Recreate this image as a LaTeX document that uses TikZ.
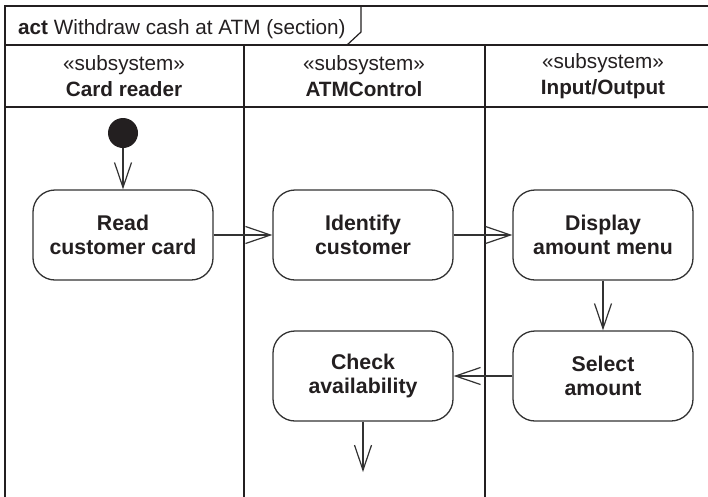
\documentclass[tikz,border=0pt]{standalone}
\usepackage{fontspec}
\setmainfont{Liberation Sans}
\usetikzlibrary{arrows.meta}
\definecolor{Ink}{HTML}{231F20}
\definecolor{EdgeGrey}{HTML}{333333}

\begin{document}
\begin{tikzpicture}[x=1pt,y=-1pt,>={Straight Barb[length=25pt,width=17pt]},every node/.style={text=Ink,font=\fontsize{20.7}{25.5}\selectfont},
  action/.style={draw=EdgeGrey,line width=1.3pt,rounded corners=22pt,minimum width=180pt,minimum height=90pt,align=center,font=\fontsize{21.3}{24.5}\selectfont\bfseries},
  flow/.style={->,EdgeGrey,line width=1.2pt},frame/.style={Ink,line width=2pt}]
\useasboundingbox (0,0) rectangle (708,496); \clip (0,0) rectangle (708,496); \fill[white] (0,0) rectangle (708,496);
% frame and swimlanes
\draw[frame] (5,520)--(5,6)--(760,6); \draw[frame] (5,45)--(760,45); \draw[frame] (5,107)--(760,107);
\draw[frame] (244,45)--(244,520); \draw[frame] (485,45)--(485,520);
\node[anchor=base west,inner sep=0pt] (title) at (18,34){\textbf{act} Withdraw cash at ATM (section)};
\draw[Ink,line width=1.2pt] (347,45)--(361,32)--(361,6);
\node[align=center] (laneA) at (124,76){«subsystem»\\\textbf{Card reader}}; \node[align=center] (laneB) at (364,76){«subsystem»\\\textbf{ATMControl}}; \node[align=center] (laneC) at (603,76){«subsystem»\\\textbf{Input/Output}};
% actions
\node[circle,fill=Ink,minimum size=30pt,inner sep=0pt] (start) at (123,133){};
\node[action] (read) at (123,235){Read\\customer card}; \node[action] (ident) at (363,235){Identify\\customer}; \node[action] (menu) at (603,235){Display\\amount menu};
\node[action] (select) at (603,376){Select\\amount}; \node[action] (check) at (363,376){Check\\availability}; \coordinate (next) at (363,472);
\draw[flow] (start)--(read); \draw[flow] (read)--(ident); \draw[flow] (ident)--(menu); \draw[flow] (menu)--(select); \draw[flow] (select)--(check); \draw[flow] (check)--(next);
\end{tikzpicture}
\end{document}
